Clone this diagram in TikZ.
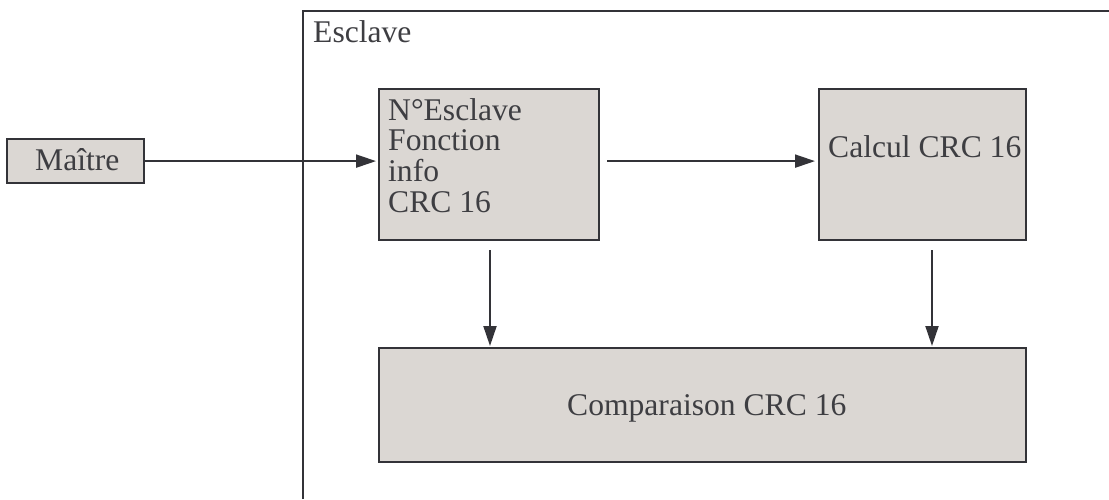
\documentclass[tikz,border=0pt]{standalone}
\usepackage{fontspec}
\setmainfont{Liberation Serif}
\usetikzlibrary{arrows.meta}
\definecolor{boxfill}{HTML}{DBD7D3}
\definecolor{linec}{HTML}{333338}
\definecolor{textc}{HTML}{3E3E42}
\begin{document}
\begin{tikzpicture}[x=1pt,y=-1pt,
  blk/.style={draw=linec, line width=2.2pt, fill=boxfill, rectangle, inner sep=0pt, anchor=north west},
  lbl/.style={anchor=base west, inner sep=0pt, text=textc, font=\fontsize{31.6}{30.7}\selectfont},
  arr/.style={draw=linec, line width=2pt, -{Triangle[length=20pt,width=13pt]}}]
\useasboundingbox (0,0) rectangle (1109,499);
% slave frame
\coordinate (ftl) at (303,11);
\draw[draw=linec, line width=2.2pt] (303,499) -- (ftl) -- (1109,11);
\node[lbl] (tesc) at (313,42) {Esclave};
% boxes
\node[blk, minimum width=137pt, minimum height=44pt] (maitre) at (6,138) {};
\node[blk, minimum width=220pt, minimum height=151pt] (box1) at (378,88) {};
\node[blk, minimum width=207pt, minimum height=151pt] (box2) at (818,88) {};
\node[blk, minimum width=647pt, minimum height=114pt] (box3) at (378,347) {};
% texts
\node[lbl] (tm) at (35,170) {Maître};
\node[lbl, align=left, anchor=north west] (t1) at (388,98) {N°Esclave\\Fonction\\info\\CRC 16};
\node[lbl] (t2) at (828,157) {Calcul CRC 16};
\node[lbl] (t3) at (567,415) {Comparaison CRC 16};
% connectors
\coordinate (d1) at (490,0);
\coordinate (d2) at (932,0);
\draw[arr, shorten >=2pt] (maitre.east) -- (maitre.east -| box1.west);
\draw[arr, shorten <=7pt, shorten >=3pt] (box1.east |- maitre.east) -- (box2.west |- maitre.east);
\draw[arr, shorten <=9pt, shorten >=1pt] (box1.south -| d1) -- (box3.north -| d1);
\draw[arr, shorten <=9pt, shorten >=1pt] (box2.south -| d2) -- (box3.north -| d2);
\end{tikzpicture}
\end{document}
